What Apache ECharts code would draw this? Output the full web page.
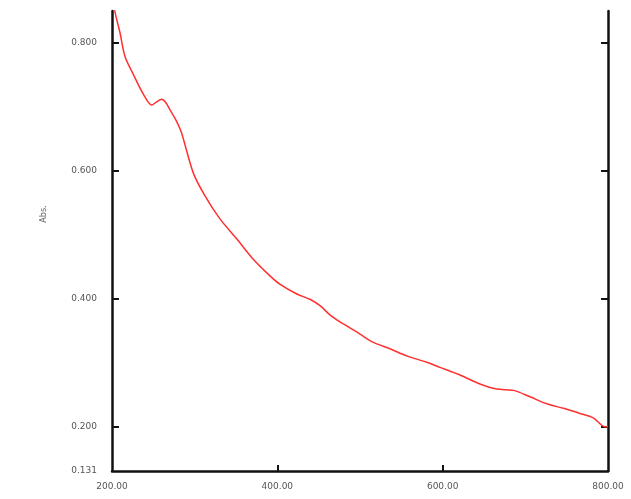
<!DOCTYPE html>
<html>
<head>
<meta charset="utf-8">
<script src="https://cdn.jsdelivr.net/npm/echarts@6/dist/echarts.min.js"></script>
<style>
  html, body { margin: 0; padding: 0; background: #fff; }
  #main { width: 631px; height: 499px; }
</style>
</head>
<body>
<div id="main"></div>
<script>
// 波长 (nm) 与吸光度读数
var wavelength = [200, 203.6, 209.7, 215.7, 225.8, 237.9, 248.0, 254.0, 260.0, 265.0, 270.0, 278.0, 284.0, 298.3, 312.5, 330.6, 350.8, 370.9, 391.1, 403.0, 423.0, 440.0, 452.0, 463.7, 475.8, 483.9, 500.0, 516.1, 536.3, 556.5, 580.7, 596.8, 621.0, 645.2, 665.4, 685.5, 705.7, 725.9, 746.0, 766.1, 782.2, 796.4, 800];
var absorbance = [0.89, 0.849, 0.816, 0.779, 0.751, 0.720, 0.703, 0.708, 0.712, 0.707, 0.696, 0.678, 0.660, 0.597, 0.561, 0.525, 0.494, 0.462, 0.436, 0.423, 0.408, 0.399, 0.389, 0.375, 0.364, 0.358, 0.345, 0.332, 0.322, 0.311, 0.301, 0.293, 0.281, 0.267, 0.259, 0.257, 0.247, 0.236, 0.229, 0.221, 0.214, 0.200, 0.200];
var xTickLabels = [200, 400, 600, 800];
var yTickLabels = [0.131, 0.2, 0.4, 0.6, 0.8];
var yTicks = [0.2, 0.4, 0.6, 0.8];

var points = [];
for (var i = 0; i < wavelength.length; i++) {
  points.push([wavelength[i], absorbance[i]]);
}

var myChart = echarts.init(document.getElementById('main'));

var labelStyle = { color: '#555', fontSize: 9, fontFamily: 'DejaVu Sans' };
var axisLine = { show: true, lineStyle: { color: '#111', width: 2.5 } };
var tickStyle = { color: '#111', width: 2 };

var option = {
  animation: false,
  backgroundColor: '#fff',
  grid: { left: 112, right: 23, top: 11, bottom: 28, containLabel: false, outerBoundsMode: 'none' },
  xAxis: {
    type: 'value',
    min: 200,
    max: 800,
    name: 'nm',
    nameLocation: 'middle',
    nameGap: 28,
    nameTextStyle: { color: '#bbb', fontSize: 8, fontFamily: 'DejaVu Sans' },
    axisLine: axisLine,
    axisTick: { show: true, inside: true, length: 6, customValues: [400, 600], lineStyle: tickStyle },
    axisLabel: {
      customValues: xTickLabels,
      margin: 11,
      color: labelStyle.color, fontSize: labelStyle.fontSize, fontFamily: labelStyle.fontFamily,
      formatter: function (v) { return v.toFixed(2); }
    },
    splitLine: { show: false }
  },
  yAxis: [
    {
      type: 'value',
      min: 0.131,
      max: 0.85,
      position: 'left',
      name: 'Abs.',
      nameLocation: 'middle',
      nameRotate: 90,
      nameGap: 64,
      nameTextStyle: { color: '#666', fontSize: 8, fontFamily: 'DejaVu Sans', padding: [0, 0, 0, 54] },
      axisLine: axisLine,
      axisTick: { show: true, inside: true, length: 7, customValues: yTicks, lineStyle: tickStyle },
      axisLabel: {
        customValues: yTickLabels,
        margin: 15,
        color: labelStyle.color, fontSize: labelStyle.fontSize, fontFamily: labelStyle.fontFamily,
        formatter: function (v) { return v.toFixed(3); }
      },
      splitLine: { show: false }
    },
    {
      type: 'value',
      min: 0.131,
      max: 0.85,
      position: 'right',
      axisLine: axisLine,
      axisTick: { show: true, inside: true, length: 7, customValues: yTicks, lineStyle: tickStyle },
      axisLabel: { show: false },
      splitLine: { show: false }
    }
  ],
  series: [
    {
      type: 'line',
      data: points,
      smooth: 0.3,
      symbol: 'none',
      clip: true,
      lineStyle: { color: '#ff3030', width: 1.5 }
    }
  ]
};

myChart.setOption(option);
</script>
</body>
</html>
